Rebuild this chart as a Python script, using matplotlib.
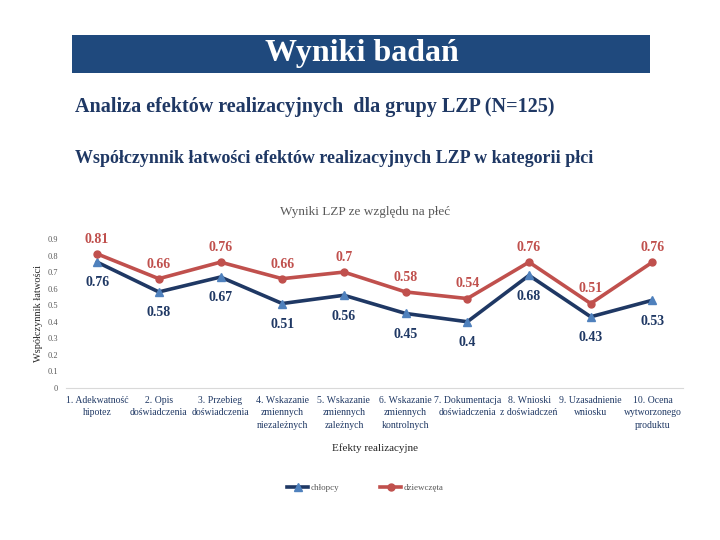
import matplotlib.pyplot as plt
from matplotlib.patches import Rectangle

plt.rcParams['font.family'] = ['Liberation Serif', 'DejaVu Serif']

kategorie = ["1. Adekwatność\nhipotez", "2. Opis\ndoświadczenia", "3. Przebieg\ndoświadczenia",
             "4. Wskazanie\nzmiennych\nniezależnych", "5. Wskazanie\nzmiennych\nzależnych",
             "6. Wskazanie\nzmiennych\nkontrolnych", "7. Dokumentacja\ndoświadczenia",
             "8. Wnioski\nz doświadczeń", "9. Uzasadnienie\nwniosku",
             "10. Ocena\nwytworzonego\nproduktu"]
chlopcy = [0.76, 0.58, 0.67, 0.51, 0.56, 0.45, 0.4, 0.68, 0.43, 0.53]
dziewczeta = [0.81, 0.66, 0.76, 0.66, 0.7, 0.58, 0.54, 0.76, 0.51, 0.76]
y_ticks = [0, 0.1, 0.2, 0.3, 0.4, 0.5, 0.6, 0.7, 0.8, 0.9]

granat = '#1F497D'
ciemny = '#1F3864'
czerwony = '#C0504D'

fig = plt.figure(figsize=(7.2, 5.4), dpi=100)

# naglowek
fig.patches.append(Rectangle((0.1, 0.865), 0.803, 0.0704, transform=fig.transFigure,
                             facecolor=granat, edgecolor='none'))
fig.text(0.502, 0.9, "Wyniki badań", color='white', fontsize=23, fontweight='bold',
         ha='center', va='center')
fig.text(0.104, 0.802, "Analiza efektów realizacyjnych  dla grupy LZP (N=125)",
         color=ciemny, fontsize=14.5, fontweight='bold', va='center')
fig.text(0.104, 0.707, "Współczynnik łatwości efektów realizacyjnych LZP w kategorii płci",
         color=ciemny, fontsize=13, fontweight='bold', va='center')
fig.text(0.507, 0.607, "Wyniki LZP ze względu na płeć", color='#595959', fontsize=9.5,
         ha='center', va='center')

ax = fig.add_axes([0.092, 0.2815, 0.857, 0.276])
x = list(range(len(kategorie)))

ax.plot(x, chlopcy, color=ciemny, lw=2.6, marker='^', markersize=6,
        markerfacecolor='#4F81BD', markeredgecolor='#4F81BD', label='chłopcy')
ax.plot(x, dziewczeta, color=czerwony, lw=2.6, marker='o', markersize=5,
        markerfacecolor=czerwony, markeredgecolor=czerwony, label='dziewczęta')

for i in x:
    ax.annotate(f"{chlopcy[i]:g}", (i, chlopcy[i]), xytext=(0, -15), textcoords='offset points',
                ha='center', va='center', fontsize=10, fontweight='bold', color=ciemny,
                annotation_clip=False)
    ax.annotate(f"{dziewczeta[i]:g}", (i, dziewczeta[i]), xytext=(0, 10.5), textcoords='offset points',
                ha='center', va='center', fontsize=10, fontweight='bold', color=czerwony,
                annotation_clip=False)

ax.set_xlim(-0.5, len(kategorie) - 0.5)
ax.set_ylim(0, 0.9)
ax.set_yticks(y_ticks)
ax.set_yticklabels([f"{v:g}" for v in y_ticks], fontsize=6, color='#595959')
ax.set_xticks(x)
ax.set_xticklabels(kategorie, fontsize=7, color=ciemny, linespacing=1.45)
ax.tick_params(length=0)
ax.tick_params(axis='x', pad=6)
ax.tick_params(axis='y', pad=6)
for s in ['top', 'right', 'left']:
    ax.spines[s].set_visible(False)
ax.spines['bottom'].set_color('#D9D9D9')
ax.set_ylabel("Współczynnik łatwości", fontsize=7.5, color='#262626', labelpad=3)
ax.set_xlabel("Efekty realizacyjne", fontsize=8, color='#262626', labelpad=10)

ax.legend(loc='upper center', bbox_to_anchor=(0.485, -0.59), ncol=2, frameon=False,
          fontsize=6.5, labelcolor='#595959', handlelength=2.3, columnspacing=4.5,
          handletextpad=0.3)

fig.savefig('out.png', dpi=100)
